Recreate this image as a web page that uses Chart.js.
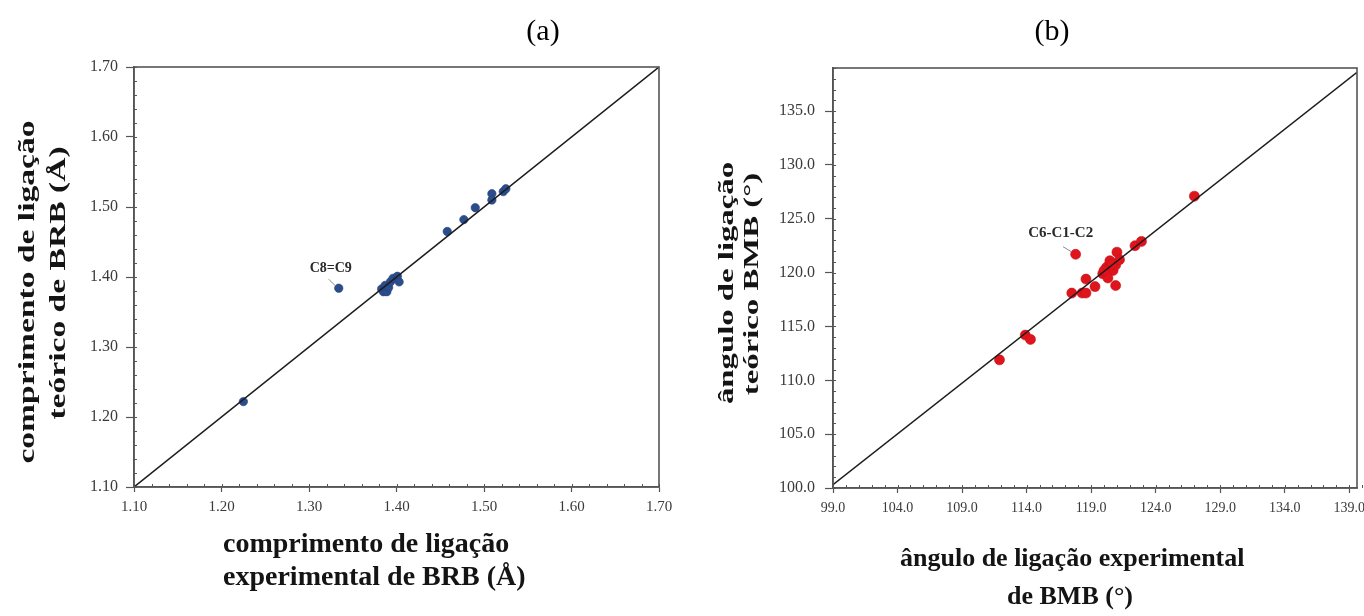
<!DOCTYPE html>
<html>
<head>
<meta charset="utf-8">
<script src="https://cdn.jsdelivr.net/npm/chart.js@4.4.1/dist/chart.umd.min.js"></script>
<style>
  html, body { margin: 0; padding: 0; background: #fff; }
  #page { position: relative; width: 1364px; height: 616px; overflow: hidden; font-family: "Liberation Serif", "DejaVu Serif", serif; }
  .wrap { position: absolute; top: 0; height: 616px; }
  #wrap-a { left: 0; width: 700px; }
  #wrap-b { left: 700px; width: 664px; }
  .txt { position: absolute; white-space: nowrap; line-height: 1; color: #141414; font-weight: bold; }
  .panel { font-weight: normal; font-size: 30px; transform: translateX(-50%); color: #000; }
  .rot-a { font-size: 23px; transform: translate(-50%, -50%) rotate(-90deg) scaleX(1.46); }
  .rot-b { font-size: 21px; transform: translate(-50%, -50%) rotate(-90deg) scaleX(1.56); }
</style>
</head>
<body>
<div id="page">
  <div class="wrap" id="wrap-a"><canvas id="chart-a" width="700" height="616"></canvas></div>
  <div class="wrap" id="wrap-b"><canvas id="chart-b" width="664" height="616"></canvas></div>

  <div class="txt panel" style="left:543px; top:15px;">(a)</div>
  <div class="txt panel" style="left:1052px; top:15px;">(b)</div>

  <div class="txt rot-a" style="left:25.5px; top:292px;">comprimento de ligação</div>
  <div class="txt rot-a" style="left:57px; top:283px;">teórico de BRB (Å)</div>
  <div class="txt" style="left:223px; top:529px; font-size:28px;">comprimento de ligação</div>
  <div class="txt" style="left:223px; top:562px; font-size:28px;">experimental de BRB (Å)</div>

  <div class="txt rot-b" style="left:726px; top:283px;">ângulo de ligação</div>
  <div class="txt rot-b" style="left:751px; top:284px;">teórico BMB (°)</div>
  <div class="txt" style="left:900px; top:545px; font-size:26px;">ângulo de ligação experimental</div>
  <div class="txt" style="left:1007px; top:583px; font-size:26px;">de BMB (°)</div>
</div>

<script>
// (a) bond lengths, experimental vs theoretical (Å)
const brbExp = [1.225, 1.334, 1.383, 1.385, 1.387, 1.389, 1.391, 1.393, 1.396, 1.401, 1.403,
  1.458, 1.477, 1.490, 1.509, 1.509, 1.522, 1.525];
const brbTeo = [1.222, 1.384, 1.383, 1.379, 1.388, 1.379, 1.385, 1.393, 1.398, 1.401, 1.393,
  1.465, 1.482, 1.499, 1.519, 1.510, 1.522, 1.526];
const brbTicks = [1.1, 1.2, 1.3, 1.4, 1.5, 1.6, 1.7];
const brbLineX = [1.1, 1.7];
const brbLineY = [1.1, 1.7];

// (b) bond angles, experimental vs theoretical (°)
const bmbExp = [111.9, 113.9, 114.3, 117.5, 118.3, 118.6, 118.6, 119.3, 117.8, 119.9, 120.2,
  120.45, 120.7, 120.3, 120.9, 121.0, 120.9, 120.6, 121.2, 120.0, 122.4, 122.9, 127.0];
const bmbTeo = [111.9, 114.2, 113.8, 118.1, 118.1, 118.1, 119.4, 118.7, 121.7, 119.9, 120.5,
  121.1, 120.2, 119.5, 118.8, 121.9, 120.7, 120.8, 121.2, 120.2, 122.5, 122.9, 127.1];
const bmbTicksX = [99, 104, 109, 114, 119, 124, 129, 134, 139];
const bmbTicksY = [100, 105, 110, 115, 120, 125, 130, 135];
const bmbLineX = [99, 139.6];
const bmbLineY = [100.3, 138.6];

const AXIS = "#555";
const SERIF = "'Liberation Serif', 'DejaVu Serif', serif";

const toPoints = (xs, ys) => xs.map((x, i) => ({ x, y: ys[i] }));

// outline of the plot area
const framePlugin = {
  id: "frame",
  afterDraw(chart) {
    const { ctx, chartArea: a } = chart;
    ctx.save();
    ctx.strokeStyle = AXIS;
    ctx.lineWidth = 1.6;
    ctx.strokeRect(a.left, a.top, a.right - a.left, a.bottom - a.top);
    ctx.restore();
  },
};

// small inward ticks between the labelled ones
const minorTicksPlugin = {
  id: "minorTicks",
  afterDraw(chart, args, opts) {
    const { ctx, chartArea: a, scales } = chart;
    ctx.save();
    ctx.strokeStyle = AXIS;
    ctx.lineWidth = 1;
    ctx.beginPath();
    const nx = Math.round((scales.x.max - opts.xStart) / opts.xStep);
    for (let i = 0; i <= nx; i += 1) {
      const px = Math.round(scales.x.getPixelForValue(opts.xStart + i * opts.xStep)) + 0.5;
      ctx.moveTo(px, a.bottom);
      ctx.lineTo(px, a.bottom - 3);
    }
    const ny = Math.round((scales.y.max - opts.yStart) / opts.yStep);
    for (let i = 0; i <= ny; i += 1) {
      const py = Math.round(scales.y.getPixelForValue(opts.yStart + i * opts.yStep)) + 0.5;
      ctx.moveTo(a.left, py);
      ctx.lineTo(a.left + 3, py);
    }
    ctx.stroke();
    ctx.restore();
  },
};

// text callouts with a short leader towards a point
const calloutPlugin = {
  id: "callout",
  afterDatasetsDraw(chart, args, opts) {
    const { ctx, scales } = chart;
    ctx.save();
    (opts.items || []).forEach((it) => {
      const px = scales.x.getPixelForValue(it.x);
      const py = scales.y.getPixelForValue(it.y);
      ctx.strokeStyle = "#8a8a8a";
      ctx.lineWidth = 1;
      ctx.beginPath();
      ctx.moveTo(px + it.lead[0], py + it.lead[1]);
      ctx.lineTo(px + it.lead[2], py + it.lead[3]);
      ctx.stroke();
      ctx.fillStyle = "#2a2a2a";
      ctx.font = `bold ${it.size}px ${SERIF}`;
      ctx.textAlign = "center";
      ctx.textBaseline = "middle";
      ctx.fillText(it.text, px + it.dx, py + it.dy);
    });
    ctx.restore();
  },
};

function makeAxis(cfg) {
  return {
    type: "linear",
    position: cfg.position,
    min: cfg.min,
    max: cfg.max,
    afterBuildTicks: (axis) => {
      axis.ticks = cfg.ticks.map((v) => ({ value: v }));
    },
    afterFit: (axis) => {
      if (cfg.position === "left") axis.width = cfg.size;
      else axis.height = cfg.size;
      axis.paddingLeft = 0;
      axis.paddingRight = 0;
      axis.paddingTop = 0;
      axis.paddingBottom = 0;
    },
    ticks: {
      autoSkip: false,
      maxRotation: 0,
      padding: cfg.padding,
      color: "#3a3a3a",
      font: { family: SERIF, size: cfg.fontSize },
      callback: (value) => Number(value).toFixed(cfg.digits),
    },
    grid: {
      drawOnChartArea: false,
      drawTicks: true,
      tickLength: cfg.tickLength,
      tickColor: AXIS,
      tickWidth: 1.2,
    },
    border: { display: true, color: AXIS, width: 1.6 },
  };
}

function makeChart(canvasId, opts) {
  return new Chart(document.getElementById(canvasId), {
    type: "scatter",
    data: {
      datasets: [
        {
          label: "y = x",
          data: toPoints(opts.lineX, opts.lineY),
          showLine: true,
          borderColor: "#1c1c1c",
          borderWidth: 1.5,
          pointRadius: 0,
          fill: false,
        },
        {
          label: opts.label,
          data: toPoints(opts.xs, opts.ys),
          backgroundColor: opts.color,
          borderColor: opts.edge,
          borderWidth: 0.6,
          pointRadius: opts.radius,
        },
      ],
    },
    options: {
      responsive: false,
      animation: false,
      layout: { padding: opts.padding },
      scales: { x: opts.x, y: opts.y },
      plugins: {
        legend: { display: false },
        tooltip: { enabled: false },
        minorTicks: opts.minor,
        callout: { items: opts.callouts },
      },
    },
    plugins: [framePlugin, minorTicksPlugin, calloutPlugin],
  });
}

makeChart("chart-a", {
  label: "BRB",
  xs: brbExp,
  ys: brbTeo,
  lineX: brbLineX,
  lineY: brbLineY,
  color: "#2c4d8c",
  edge: "#22407a",
  radius: 4.2,
  padding: { left: 0, top: 67, right: 41, bottom: 0 },
  x: makeAxis({ position: "bottom", min: 1.1, max: 1.7, ticks: brbTicks, size: 129, padding: 6, tickLength: 5, fontSize: 15, digits: 2 }),
  y: makeAxis({ position: "left", min: 1.1, max: 1.7, ticks: brbTicks, size: 134, padding: 8, tickLength: 8, fontSize: 16, digits: 2 }),
  minor: { xStart: 1.1, xStep: 0.02, yStart: 1.1, yStep: 0.02 },
  callouts: [{ text: "C8=C9", x: 1.334, y: 1.384, dx: -8, dy: -20, size: 14, lead: [-10, -9, -3, -2] }],
});

makeChart("chart-b", {
  label: "BMB",
  xs: bmbExp,
  ys: bmbTeo,
  lineX: bmbLineX,
  lineY: bmbLineY,
  color: "#e0141c",
  edge: "#c21016",
  radius: 5,
  padding: { left: 0, top: 68, right: 7, bottom: 0 },
  x: makeAxis({ position: "bottom", min: 99, max: 139.6, ticks: bmbTicksX, size: 128, padding: 7, tickLength: 5, fontSize: 14, digits: 1 }),
  y: makeAxis({ position: "left", min: 100, max: 139, ticks: bmbTicksY, size: 133, padding: 10, tickLength: 8, fontSize: 16, digits: 1 }),
  minor: { xStart: 99, xStep: 1, yStart: 100, yStep: 1 },
  callouts: [{ text: "C6-C1-C2", x: 117.8, y: 121.7, dx: -15, dy: -21, size: 15, lead: [-12.6, -7.6, -4.3, -2.6] }],
});
</script>
</body>
</html>
